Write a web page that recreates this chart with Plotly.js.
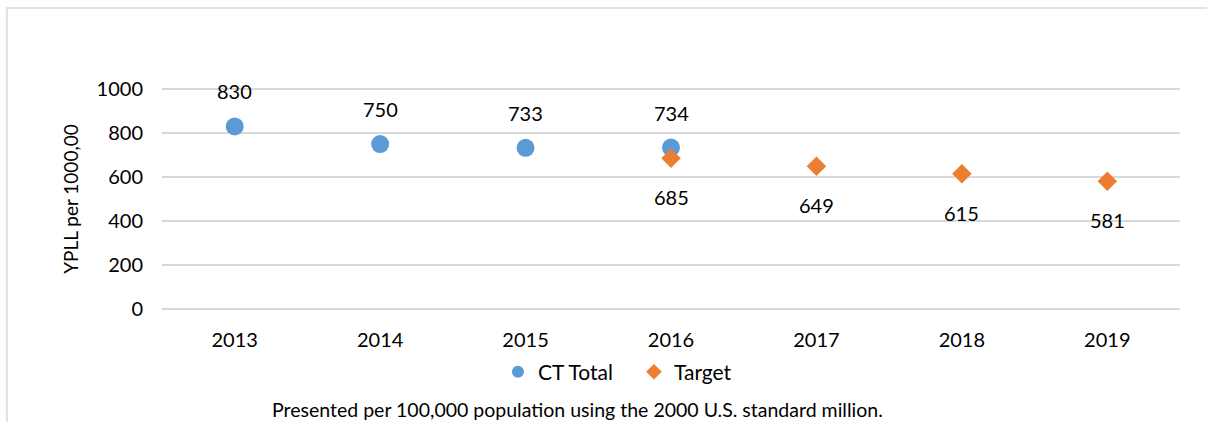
<!DOCTYPE html>
<html>
<head>
<meta charset="utf-8">
<script src="https://cdn.plot.ly/plotly-3.0.1.min.js"></script>
<style>
  html, body { margin: 0; padding: 0; background: #fff; }
  #chart { width: 1207px; height: 422px; }
</style>
</head>
<body>
<div id="chart"></div>
<script>
// YPLL per 100,000 - CT total vs target

var years = ['2013', '2014', '2015', '2016', '2017', '2018', '2019'];
var ctYears = ['2013', '2014', '2015', '2016'];
var ctTotal = [830, 750, 733, 734];
var targetYears = ['2016', '2017', '2018', '2019'];
var targetVals = [685, 649, 615, 581];
var yTicks = [0, 200, 400, 600, 800, 1000];

var fontFam = 'Lato, "Open Sans", sans-serif';

var data = [];
data[0] = {
  x: ctYears,
  y: ctTotal,
  mode: 'markers',
  type: 'scatter',
  name: 'CT Total',
  marker: { color: '#5B9BD5', size: 18, symbol: 'circle' },
  hoverinfo: 'x+y'
};
data[1] = {
  x: targetYears,
  y: targetVals,
  mode: 'markers',
  type: 'scatter',
  name: 'Target',
  marker: { color: '#ED7D31', size: 15, symbol: 'diamond' },
  hoverinfo: 'x+y'
};

// value labels: CT above, target below (category axis -> use index)
var annots = [];
ctYears.forEach(function(yr, i){
  annots.push({ x: years.indexOf(yr), y: ctTotal[i], text: String(ctTotal[i]), showarrow: false,
    yshift: 35, font: { size: 20, color: '#000', family: fontFam } });
});
targetYears.forEach(function(yr, i){
  annots.push({ x: years.indexOf(yr), y: targetVals[i], text: String(targetVals[i]), showarrow: false,
    yshift: -39, font: { size: 20, color: '#000', family: fontFam } });
});
annots.push({
  xref: 'paper', yref: 'paper', x: 0.408, y: -0.508, xanchor: 'center', yanchor: 'bottom',
  text: 'Presented per 100,000 population using the 2000 U.S. standard million.',
  showarrow: false, font: { size: 19.5, color: '#000', family: fontFam }
});

var layout = {
  width: 1207,
  height: 422,
  margin: { l: 162, r: 27, t: 88, b: 112 },
  paper_bgcolor: '#fff',
  plot_bgcolor: '#fff',
  font: { family: fontFam, size: 20, color: '#000' },
  xaxis: {
    type: 'category',
    categoryorder: 'array',
    categoryarray: years,
    range: [-0.5, 6.5],
    showgrid: false,
    showline: false,
    zeroline: false,
    ticks: '',
    ticklabelstandoff: 16,
    tickfont: { size: 20, family: fontFam }
  },
  yaxis: {
    range: [-5, 1005],
    tickvals: yTicks,
    showgrid: true,
    gridcolor: '#d9d9d9',
    gridwidth: 1.5,
    zeroline: false,
    showline: false,
    ticks: '',
    ticklabelstandoff: 18,
    tickfont: { size: 20, family: fontFam },
    title: { text: 'YPLL per 1000,00', font: { size: 19, family: fontFam }, standoff: 12 }
  },
  showlegend: true,
  legend: {
    orientation: 'h',
    x: 0.330, xanchor: 'left',
    y: -0.28, yanchor: 'middle',
    font: { size: 21, family: fontFam },
    itemwidth: 30,
    itemsizing: 'constant',
    entrywidth: 91,
    entrywidthmode: 'pixels',
    tracegroupgap: 0
  },
  annotations: annots,
  shapes: [{
    type: 'rect', xref: 'paper', yref: 'paper',
    x0: -0.1523, x1: 1.2, y0: -2, y1: 1.36,
    line: { color: '#d9d9d9', width: 1.5 }
  }]
};

Plotly.newPlot('chart', data, layout, { displayModeBar: false, staticPlot: true });
</script>
</body>
</html>
